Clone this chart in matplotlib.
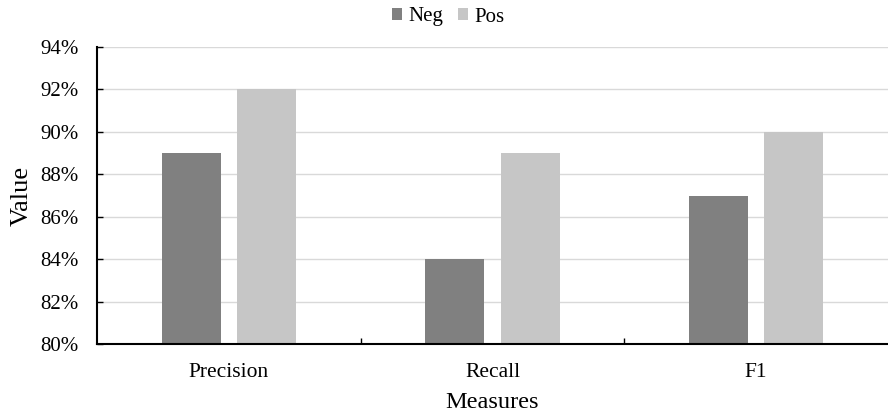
import numpy as np
import matplotlib.pyplot as plt
from matplotlib.ticker import PercentFormatter, FixedLocator

plt.rcParams['font.family'] = ['Liberation Serif', 'DejaVu Serif']

categories = ['Precision', 'Recall', 'F1']
neg_values = [0.89, 0.84, 0.87]
pos_values = [0.92, 0.89, 0.90]
y_ticks = [0.80, 0.82, 0.84, 0.86, 0.88, 0.90, 0.92, 0.94]

fig = plt.figure(figsize=(8.88, 4.15), dpi=100)
ax = fig.add_axes([97 / 888, 71 / 415, 791 / 888, 297 / 415])

index = np.arange(len(categories))
bar_width = 0.223
offset = 0.143

ax.bar(index - offset, neg_values, bar_width, color='#808080', label='Neg', zorder=3)
ax.bar(index + offset, pos_values, bar_width, color='#c6c6c6', label='Pos', zorder=3)

ax.set_xlim(-0.5, 2.5)
ax.set_ylim(0.80, 0.94)
ax.set_yticks(y_ticks)
ax.yaxis.set_major_formatter(PercentFormatter(1.0, decimals=0))
ax.set_xticks(index)
ax.set_xticklabels(categories)
ax.xaxis.set_minor_locator(FixedLocator([0.5, 1.5]))

ax.grid(axis='y', color='#d9d9d9', linewidth=1.0, zorder=0)
for side in ['top', 'right']:
    ax.spines[side].set_visible(False)
for side in ['left', 'bottom']:
    ax.spines[side].set_linewidth(1.5)
    ax.spines[side].set_zorder(4)

ax.tick_params(axis='y', direction='in', length=4, width=1, pad=13, labelsize=15)
ax.tick_params(axis='x', which='major', length=0, pad=14, labelsize=15.5)
ax.tick_params(axis='x', which='minor', direction='in', length=4, width=1)

ax.set_xlabel('Measures', fontsize=17.5, labelpad=7)
ax.set_ylabel('Value', fontsize=19, labelpad=6)

fig.legend(loc='center', bbox_to_anchor=(448 / 888, 1 - 17 / 415), ncol=2,
           frameon=False, fontsize=15, handlelength=0.48, handleheight=0.48,
           handletextpad=0.3, columnspacing=0.72, borderaxespad=0)

plt.savefig('out.png', dpi=100)
